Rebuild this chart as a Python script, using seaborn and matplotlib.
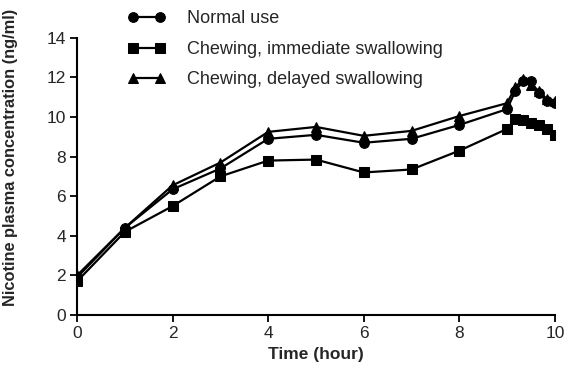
import matplotlib
matplotlib.use("Agg")
import matplotlib.pyplot as plt
import seaborn as sns
import pandas as pd

time_h = [0, 1, 2, 3, 4, 5, 6, 7, 8, 9, 9.17, 9.33, 9.5, 9.67, 9.83, 10]
normal_use = [1.9, 4.4, 6.35, 7.4, 8.9, 9.1, 8.7, 8.9, 9.6, 10.4, 11.3, 11.8, 11.8, 11.2, 10.8, 10.7]
chew_immediate = [1.7, 4.2, 5.5, 7.0, 7.8, 7.85, 7.2, 7.35, 8.3, 9.4, 9.9, 9.85, 9.7, 9.6, 9.4, 9.1]
chew_delayed = [2.0, 4.4, 6.55, 7.7, 9.25, 9.5, 9.05, 9.3, 10.05, 10.7, 11.5, 11.9, 11.6, 11.3, 10.9, 10.8]
series_names = ["Normal use", "Chewing, immediate swallowing", "Chewing, delayed swallowing"]

rows = []
for name, vals in zip(series_names, [normal_use, chew_immediate, chew_delayed]):
    for t, v in zip(time_h, vals):
        rows.append({"Time": t, "Conc": v, "Series": name})
df = pd.DataFrame(rows)

sns.set_style("ticks")
plt.rcParams['font.family'] = ['Liberation Sans', 'DejaVu Sans']

fig = plt.figure(figsize=(5.75, 3.71), dpi=100)
ax = fig.add_axes([0.134, 0.151, 0.831, 0.747])

sns.lineplot(data=df, x="Time", y="Conc", hue="Series", style="Series",
             hue_order=series_names, style_order=series_names,
             palette=["black"] * 3, markers={series_names[0]: "o", series_names[1]: "s", series_names[2]: "^"},
             dashes=False, markersize=7, linewidth=1.6, markeredgecolor="black",
             ax=ax, legend=True)

ax.set_xlim(0, 10)
ax.set_ylim(0, 14)
ax.set_xticks([0, 2, 4, 6, 8, 10])
ax.set_yticks([0, 2, 4, 6, 8, 10, 12, 14])
ax.tick_params(labelsize=12.5, width=1.3, length=5, color="black", pad=3)
for s in ["top", "right"]:
    ax.spines[s].set_visible(False)
for s in ["left", "bottom"]:
    ax.spines[s].set_linewidth(1.5)
    ax.spines[s].set_color("black")
ax.set_xlabel("Time (hour)", fontsize=12.5, fontweight="bold", labelpad=4)
ax.set_ylabel("Nicotine plasma concentration (ng/ml)", fontsize=11.8, fontweight="bold")
ax.yaxis.set_label_coords(-0.123, 0.57)

handles, labels = ax.get_legend_handles_labels()
ax.legend(handles, labels, loc="upper left", bbox_to_anchor=(0.222, 0.972),
          bbox_transform=fig.transFigure, frameon=False, fontsize=13,
          handlelength=2.1, labelspacing=0.75, handletextpad=1.2, borderaxespad=0,
          borderpad=0, numpoints=2)

fig.savefig("out.png", dpi=100)
